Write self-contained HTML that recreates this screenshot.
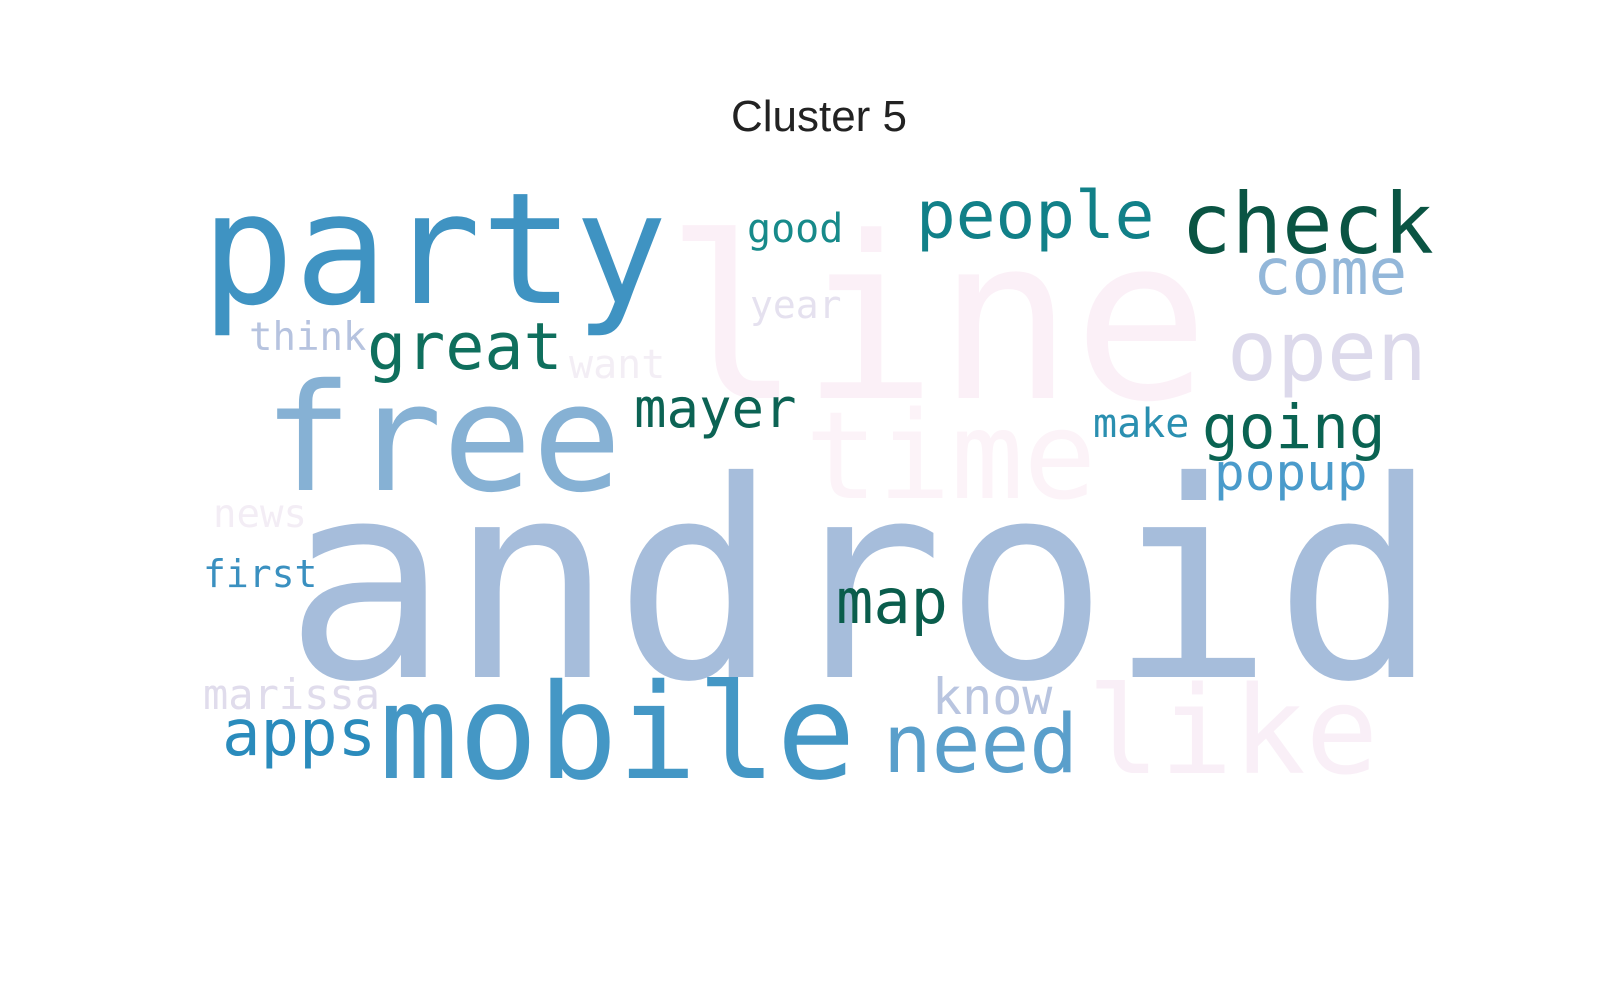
<!DOCTYPE html>
<html><head><meta charset="utf-8"><style>
html,body{margin:0;padding:0;background:#fff;}
svg{display:block}
</style></head><body>
<svg id="cloud" width="1600" height="1000" viewBox="0 0 1600 1000" xmlns="http://www.w3.org/2000/svg">
<rect width="1600" height="1000" fill="#fff"/>
<text x="819" y="131" text-anchor="middle" font-family="Liberation Sans, Arial, sans-serif" font-size="44" fill="#222">Cluster 5</text>
<g id="words"></g>
</svg>
<script>
const words = ["line","time","like","android","party","free","mobile","check","open","come","people","need","great","mayer","going","map","apps","popup","know","good","year","think","want","make","news","first","marissa"];
const fontSizes = [226,121,121,274,155,149,132,84,83,64,66,81,65,54,61,62,64,51,50,40,38,39,40,40,39,38,42];
const colors = ["#fbf0f7","#fcf3f8","#f9eff7","#a6bddb","#3f93c2","#86b1d4","#4497c5","#0a5443","#dcd9eb","#93b7d9","#118088","#5a9fcb","#0f6f5d","#0c6354","#0a6352","#0a5d4c","#2a8bbc","#4a9bcb","#b9c5e0","#178a8a","#e5e1ef","#b6c3df","#f3eef5","#2a8fb0","#f3edf5","#3a90c0","#e0dcec"];
const posX = [665,805,1087,284,201,263,379,1181,1227,1253,916,883,367,634,1202,836,222,1214,932,747,750,249,569,1093,213,203,203];
const posY = [398,498,773,677,303,490,778,253,380,294,238,772,369,427,448,623,755,490,714,242,318,350,378,437,527,587,709];
const g = document.getElementById('words');
const NS = "http://www.w3.org/2000/svg";
for (let i = 0; i < words.length; i++) {
  const t = document.createElementNS(NS, 'text');
  t.setAttribute('x', posX[i]);
  t.setAttribute('y', posY[i]);
  t.setAttribute('font-family', '"DejaVu Sans Mono", "Liberation Mono", monospace');
  t.setAttribute('font-size', fontSizes[i]);
  t.setAttribute('fill', colors[i]);
  t.textContent = words[i];
  
  
  g.appendChild(t);
}
</script>
</body></html>
